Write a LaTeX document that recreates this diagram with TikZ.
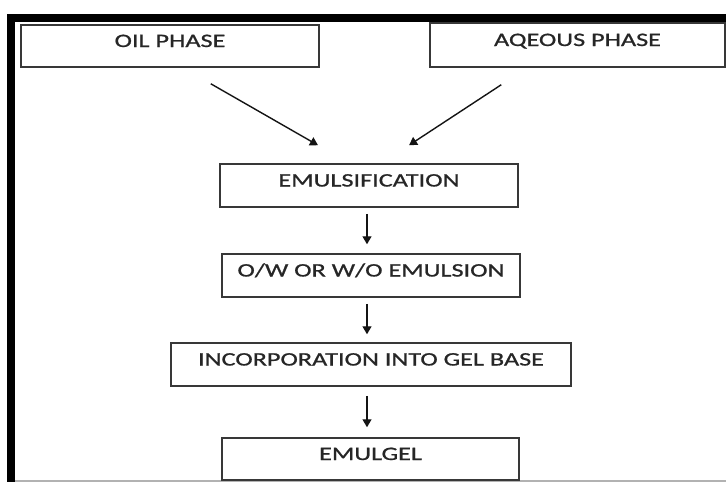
\documentclass[tikz,border=0pt]{standalone}
\usepackage{fontspec}
\setmainfont[FakeStretch=1.38,FakeBold=0.9]{Carlito}
\usetikzlibrary{arrows.meta,calc}
\begin{document}
\begin{tikzpicture}[x=1pt,y=-1pt,
  box/.style={draw=black!78, line width=1.5pt, inner sep=0pt, text=black!85,
    font=\fontsize{19}{20}\selectfont, text height=12pt, text depth=10pt},
  arr/.style={draw=black!92, line width=1.4pt, -{Triangle[length=8pt,width=9pt]}}]
\useasboundingbox[fill=white] (0,0) rectangle (726,482);
% frame
\fill[black] (7,14) rectangle (726,22);
\fill[black] (7,14) rectangle (15,482);
\draw[black!30, line width=1.2pt] (15,481) -- (726,481);
% boxes
\node[box, minimum width=298pt, minimum height=42pt] (oil) at (170,46) {OIL PHASE};
\node[box, minimum width=295pt, minimum height=44pt] (aq) at (577.5,45) {AQEOUS PHASE};
\node[box, minimum width=298pt, minimum height=43pt] (emul) at (369,185.5) {EMULSIFICATION};
\node[box, minimum width=298pt, minimum height=43pt] (ow) at (371,275.5) {O/W OR W/O EMULSION};
\node[box, minimum width=400pt, minimum height=43pt] (inc) at (371,364.5) {INCORPORATION INTO GEL BASE};
\node[box, minimum width=297pt, minimum height=42pt] (gel) at (370.5,459) {EMULGEL};
% arrows
\draw[arr] ($(oil.south east)+(-109,16)$) -- ($(emul.north)+(-51,-18)$);
\draw[arr] ($(aq.south west)+(72,17)$) -- ($(emul.north)+(40,-18)$);
\draw[arr] ($(emul.south)+(-2,6)$) -- ($(ow.north)+(-4,-9)$);
\draw[arr] ($(ow.south)+(-4,6)$) -- ($(inc.north)+(-4,-8)$);
\draw[arr] ($(inc.south)+(-4,9)$) -- ($(gel.north)+(-3.5,-10)$);
\end{tikzpicture}
\end{document}
